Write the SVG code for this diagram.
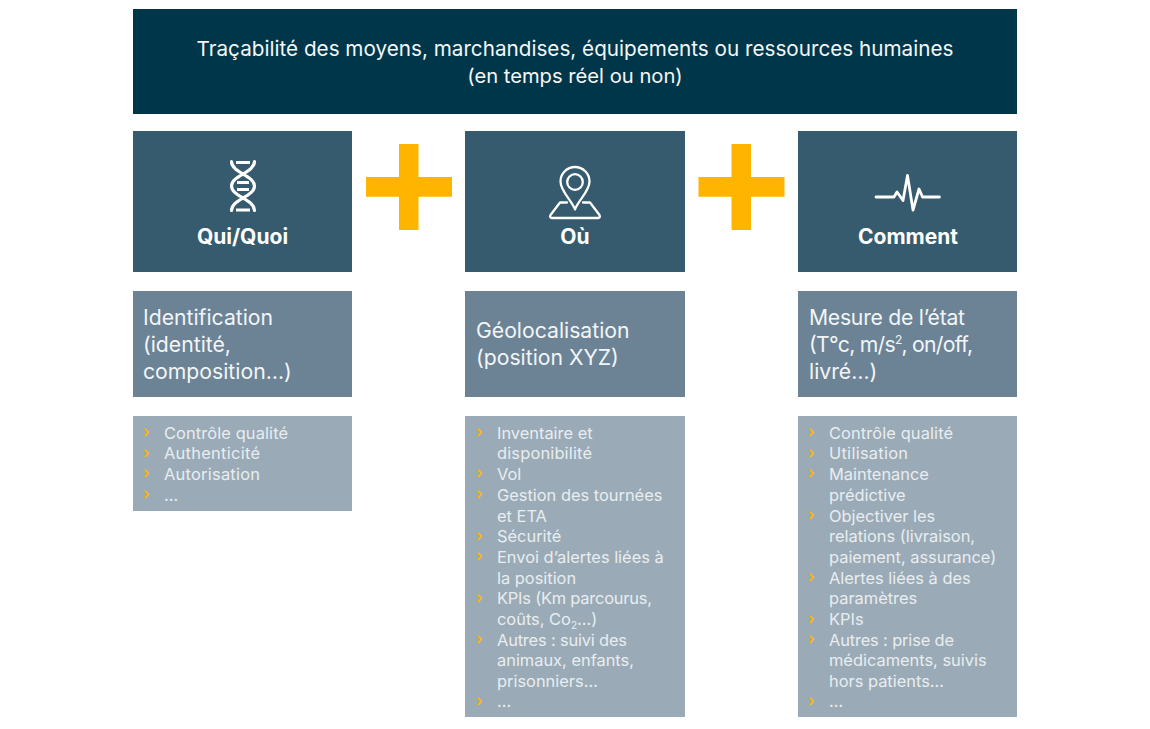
<svg xmlns="http://www.w3.org/2000/svg" width="1150" height="729" viewBox="0 0 1150 729">
<style>
text{font-family:Inter,"Liberation Sans",sans-serif;fill:#fff}
.top{fill:#003649}
.head{fill:#365b6e}
.mid{fill:#6c8396}
.low{fill:#9aabb7}
.plus{fill:#ffb500}
.t{font-size:20.7px;text-anchor:middle;fill:#f4f7f8}
.h{font-size:21px;font-weight:700;text-anchor:middle}
.m{font-size:21.2px;fill:#f2f5f7}
.l{font-size:16.4px;fill:#e9edf0}
.b{font-size:16px;fill:#ffb500;font-weight:600}
.ic{fill:none;stroke:#fff;stroke-width:2.300;stroke-linejoin:round;stroke-linecap:round}
.sub{font-size:10px}
</style>
<rect width="1150" height="729" fill="#fff"/>
<g id="banner"><rect class="top" x="133" y="9" width="884" height="105"/>
<text class="t" x="575" y="56">Traçabilité des moyens, marchandises, équipements ou ressources humaines</text>
<text class="t" x="575" y="83" style="font-size:20.2px">(en temps réel ou non)</text></g>
<g id="plus-1"><path class="plus" d="M399 144h19.500v33h33.500v19.700h-33.500v33.300h-19.500v-33.300h-33v-19.700h33z"/></g>
<g id="plus-2"><path class="plus" d="M731.500 144h19.500v33h33.500v19.700h-33.500v33.300h-19.500v-33.300h-33v-19.700h33z"/></g>
<g id="qui"><rect class="head" x="133" y="131" width="219" height="141"/>
<path class="ic" style="stroke-width:3.200" d="M231.500 161.500c0 11 23 14 23 24.500s-23 13.500-23 24.500M254.500 161.500c0 11-23 14-23 24.500s23 13.500 23 24.500"/>
<path class="ic" style="stroke-width:2.800;stroke-linecap:butt" d="M236 162.500h14M237 182.500h12M237 189.500h12M236 210h14"/>
<text class="h" x="242.500" y="243.500">Qui/Quoi</text></g>
<g id="ou"><rect class="head" x="465" y="131" width="220" height="141"/>
<path class="ic" d="M575 209.500c-3-9-14.500-18-14.500-28a14.500 14.500 0 0 1 29 0c0 10-11.500 19-14.500 28z"/><circle class="ic" cx="575" cy="182" r="7.800"/><path class="ic" d="M567 202.500h-7l-9.500 12.500c-1 2 0 3 2 3h45c2 0 3-1 2-3l-9.500-12.500h-7"/>
<text class="h" x="575" y="243.500">Où</text></g>
<g id="comment"><rect class="head" x="798" y="131" width="219" height="141"/>
<path class="ic" style="stroke-width:2.800" d="M876 197h18l3-5 6 8.500 4.500-25 5.500 34.500 6-21 3.500 8h17"/>
<text class="h" x="908" y="243.500">Comment</text></g>
<g id="identification"><rect class="mid" x="133" y="291" width="219" height="106"/>
<text class="m" x="143" y="325">Identification</text><text class="m" x="143" y="351.500">(identité,</text><text class="m" x="143" y="378.500">composition…)</text></g>
<g id="geolocalisation"><rect class="mid" x="465" y="291" width="220" height="106"/>
<text class="m" x="476" y="338">Géolocalisation</text><text class="m" x="476" y="365">(position XYZ)</text></g>
<g id="mesure"><rect class="mid" x="798" y="291" width="219" height="106"/>
<text class="m" x="809" y="325" textLength="156">Mesure de l’état</text><text class="m" x="809" y="351.500" textLength="164">(T°c, m/s<tspan font-size="12" dy="-8">2</tspan><tspan dy="8">, on/off,</tspan></text><text class="m" x="809" y="378.500">livré…)</text></g>
<g id="list-1"><rect class="low" x="133" y="416" width="219" height="95"/>
<text class="b" x="143" y="437">›</text><text class="l" x="164" y="438.500" textLength="124">Contrôle qualité</text>
<text class="b" x="143" y="458">›</text><text class="l" x="164" y="459" textLength="96">Authenticité</text>
<text class="b" x="143" y="478">›</text><text class="l" x="164" y="480" textLength="96">Autorisation</text>
<text class="b" x="143" y="499">›</text><text class="l" x="164" y="500.500">…</text></g>
<g id="list-2"><rect class="low" x="465" y="416" width="220" height="301"/>
<text class="b" x="476" y="437">›</text><text class="l" x="497" y="438.500">Inventaire et</text><text class="l" x="497" y="459" textLength="95">disponibilité</text>
<text class="b" x="476" y="478">›</text><text class="l" x="497" y="480">Vol</text>
<text class="b" x="476" y="499">›</text><text class="l" x="497" y="500.500">Gestion des tournées</text><text class="l" x="497" y="521.500">et ETA</text>
<text class="b" x="476" y="541">›</text><text class="l" x="497" y="542">Sécurité</text>
<text class="b" x="476" y="561">›</text><text class="l" x="497" y="562.500">Envoi d’alertes liées à</text><text class="l" x="497" y="583.500">la position</text>
<text class="b" x="476" y="603">›</text><text class="l" x="497" y="604" textLength="155">KPIs (Km parcourus,</text><text class="l" x="497" y="625">coûts, Co<tspan class="sub" dy="4">2</tspan><tspan dy="-4">…)</tspan></text>
<text class="b" x="476" y="644">›</text><text class="l" x="497" y="645.500" textLength="130">Autres : suivi des</text><text class="l" x="497" y="666">animaux, enfants,</text><text class="l" x="497" y="686.500">prisonniers…</text>
<text class="b" x="476" y="706">›</text><text class="l" x="497" y="707">…</text></g>
<g id="list-3"><rect class="low" x="798" y="416" width="219" height="301"/>
<text class="b" x="808" y="437">›</text><text class="l" x="829" y="438.500" textLength="124">Contrôle qualité</text>
<text class="b" x="808" y="458">›</text><text class="l" x="829" y="459" textLength="79">Utilisation</text>
<text class="b" x="808" y="478">›</text><text class="l" x="829" y="480">Maintenance</text><text class="l" x="829" y="500.500">prédictive</text>
<text class="b" x="808" y="520">›</text><text class="l" x="829" y="521.500">Objectiver les</text><text class="l" x="829" y="542">relations (livraison,</text><text class="l" x="829" y="562.500">paiement, assurance)</text>
<text class="b" x="808" y="582">›</text><text class="l" x="829" y="583.500">Alertes liées à des</text><text class="l" x="829" y="604">paramètres</text>
<text class="b" x="808" y="624">›</text><text class="l" x="829" y="625">KPIs</text>
<text class="b" x="808" y="644">›</text><text class="l" x="829" y="645.500" textLength="125">Autres : prise de</text><text class="l" x="829" y="666">médicaments, suivis</text><text class="l" x="829" y="686.500">hors patients…</text>
<text class="b" x="808" y="706">›</text><text class="l" x="829" y="707">…</text></g>
</svg>
